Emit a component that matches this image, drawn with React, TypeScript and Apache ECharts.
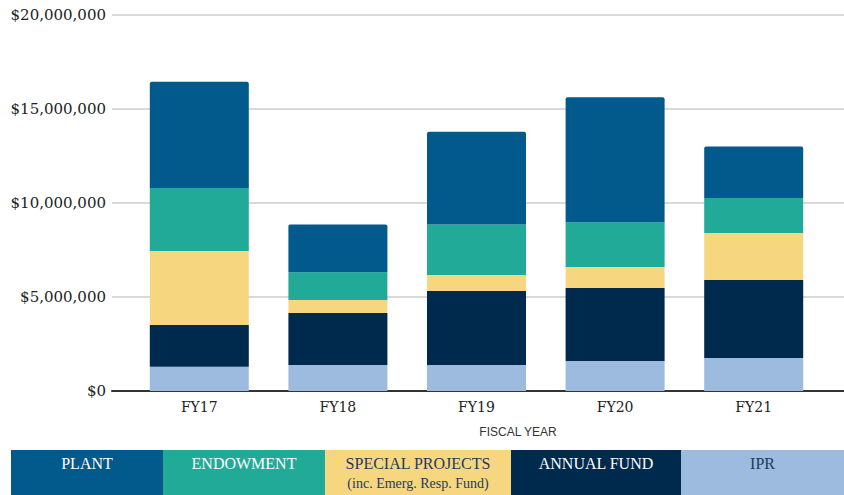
import React, { useEffect, useRef } from "react";
import * as echarts from "echarts";

const categories = ["FY17", "FY18", "FY19", "FY20", "FY21"];
// values in millions of dollars
const ipr = [1.29, 1.38, 1.38, 1.6, 1.76];
const annualFund = [2.22, 2.77, 3.94, 3.88, 4.14];
const specialProjects = [3.94, 0.69, 0.85, 1.12, 2.5];
const endowment = [3.35, 1.47, 2.68, 2.37, 1.87];
const plant = [5.65, 2.54, 4.94, 6.65, 2.73];
const yTicks = [0, 5000000, 10000000, 15000000, 20000000];

const seriesDefs = [
  { name: "IPR", data: ipr, color: "#9dbadf", text: "#1f3a5c" },
  { name: "ANNUAL FUND", data: annualFund, color: "#00294e", text: "#ffffff" },
  { name: "SPECIAL PROJECTS", data: specialProjects, color: "#f6d780", text: "#1f3a5c" },
  { name: "ENDOWMENT", data: endowment, color: "#21aa97", text: "#ffffff" },
  { name: "PLANT", data: plant, color: "#015a8b", text: "#ffffff" },
];

const legendOrder = ["PLANT", "ENDOWMENT", "SPECIAL PROJECTS", "ANNUAL FUND", "IPR"];
const legendEdges = [11, 163, 325, 511, 681, 844];

export default function App() {
  const ref = useRef<HTMLDivElement>(null);
  useEffect(() => {
    document.body.style.margin = "0";
    const chart = echarts.init(ref.current!, null, { renderer: "svg" });
    const serif = "DejaVu Serif";
    const legendFont = "Liberation Serif";
    const graphics: any[] = [];
    legendOrder.forEach((name, i) => {
      const def = seriesDefs.find((s) => s.name === name)!;
      const x0 = legendEdges[i];
      const x1 = legendEdges[i + 1];
      graphics.push({
        type: "rect",
        shape: { x: x0, y: 450, width: x1 - x0, height: 45 },
        style: { fill: def.color },
      });
      graphics.push({
        type: "text",
        x: (x0 + x1) / 2,
        y: 463,
        style: {
          text: name,
          fill: def.text,
          font: `16px "${legendFont}"`,
          textAlign: "center",
          textVerticalAlign: "middle",
        },
      });
      if (name === "SPECIAL PROJECTS") {
        graphics.push({
          type: "text",
          x: (x0 + x1) / 2,
          y: 483,
          style: {
            text: "(inc. Emerg. Resp. Fund)",
            fill: def.text,
            font: `14px "${legendFont}"`,
            textAlign: "center",
            textVerticalAlign: "middle",
          },
        });
      }
    });
    graphics.push({
      type: "text",
      x: 518,
      y: 432,
      style: {
        text: "FISCAL YEAR",
        fill: "#333333",
        font: '12px "Liberation Sans"',
        textAlign: "center",
        textVerticalAlign: "middle",
      },
    });

    chart.setOption({
      animation: false,
      grid: [
        { left: 112, right: 0, top: 15, bottom: 104 },
        { left: 130, right: 21, top: 15, bottom: 104 },
      ],
      xAxis: [
        {
          type: "value",
          gridIndex: 0,
          min: 0,
          max: 1,
          axisLine: { show: true, lineStyle: { color: "#333333", width: 2 } },
          axisTick: { show: false },
          axisLabel: { show: false },
          splitLine: { show: false },
        },
        {
          type: "category",
          gridIndex: 1,
          data: categories,
          axisLine: { show: false },
          axisTick: { show: false },
          axisLabel: { color: "#222222", fontFamily: serif, fontSize: 14, margin: 9 },
        },
      ],
      yAxis: [
        {
          type: "value",
          gridIndex: 0,
          min: yTicks[0],
          max: yTicks[yTicks.length - 1],
          interval: yTicks[1] - yTicks[0],
          axisLine: { show: false },
          axisTick: { show: false },
          axisLabel: {
            color: "#222222",
            fontFamily: serif,
            fontSize: 15,
            margin: 6,
            formatter: (v: number) => "$" + v.toLocaleString("en-US"),
          },
          splitLine: { lineStyle: { color: "#cccccc", width: 1.5 } },
        },
        {
          type: "value",
          gridIndex: 1,
          min: yTicks[0],
          max: yTicks[yTicks.length - 1],
          show: false,
          splitLine: { show: false },
        },
      ],
      series: seriesDefs.map((s, idx) => ({
        name: s.name,
        type: "bar",
        stack: "total",
        xAxisIndex: 1,
        yAxisIndex: 1,
        barWidth: 99,
        data: s.data.map((v) => Math.round(v * 1000000)),
        itemStyle: {
          color: s.color,
          borderRadius: idx === seriesDefs.length - 1 ? [2, 2, 0, 0] : 0,
        },
      })),
      graphic: graphics,
    });
    return () => chart.dispose();
  }, []);
  return <div ref={ref} style={{ width: 844, height: 495 }} />;
}
